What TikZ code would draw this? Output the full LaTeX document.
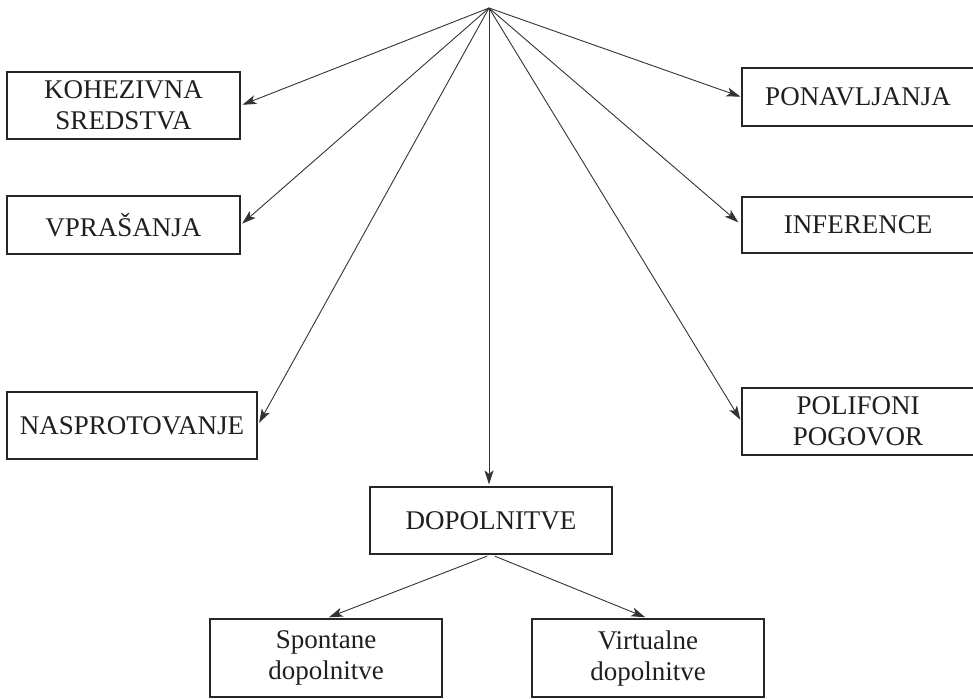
\documentclass[tikz,border=0pt]{standalone}
\usepackage{fontspec}
\setmainfont{Liberation Serif}
\usetikzlibrary{arrows.meta}

\tikzset{
  box/.style={draw=black!85, line width=1.2pt, inner sep=0pt, align=center,
              font=\fontsize{27}{31}\selectfont, text=black!88},
  link/.style={draw=black!80, line width=0.9pt,
               -{Stealth[length=14pt,width=9pt,inset=3.5pt]}},
}

\begin{document}
\begin{tikzpicture}[x=1pt, y=-1pt]
  \useasboundingbox (0,0) rectangle (973,698);

  % common origin of the fan of arrows
  \coordinate (apex) at (489,8);

  % left column
  \node[box, minimum width=233pt, minimum height=67pt] (koh) at (123.5,105.5) {KOHEZIVNA\\SREDSTVA};
  \node[box, minimum width=233pt, minimum height=58pt] (vpr) at (123.5,225) {VPRAŠANJA};
  \node[box, minimum width=250pt, minimum height=67pt] (nas) at (132,425.5) {NASPROTOVANJE};

  % right column
  \node[box, minimum width=232pt, minimum height=58pt] (pon) at (858,97) {PONAVLJANJA};
  \node[box, minimum width=232pt, minimum height=56pt] (inf) at (858,225) {INFERENCE};
  \node[box, minimum width=232pt, minimum height=67pt] (pol) at (858,421.5) {POLIFONI\\POGOVOR};

  % centre branch
  \node[box, minimum width=242pt, minimum height=67pt] (dop) at (491,520.5) {DOPOLNITVE};
  \node[box, minimum width=232pt, minimum height=78pt] (spo) at (326,658) {Spontane\\dopolnitve};
  \node[box, minimum width=232pt, minimum height=78pt] (vir) at (648,658) {Virtualne\\dopolnitve};

  % arrows from the apex
  \draw[link, shorten >=2pt] (apex) -- (koh.east);
  \draw[link, shorten >=2pt] (apex) -- (vpr.east);
  \draw[link, shorten >=3pt] (apex) -- (nas.east);
  \draw[link, shorten >=1pt] (apex) -- (pon.west);
  \draw[link, shorten >=4pt] (apex) -- (inf.west);
  \draw[link, shorten >=2pt] (apex) -- (pol.west);
  \draw[link, shorten >=2pt] (apex) -- (apex |- dop.north);

  % arrows below DOPOLNITVE
  \draw[link, shorten <=4pt, shorten >=3pt] (dop.south) -- (spo.north);
  \draw[link, shorten <=4pt, shorten >=3pt] (dop.south) -- (vir.north);
\end{tikzpicture}
\end{document}
